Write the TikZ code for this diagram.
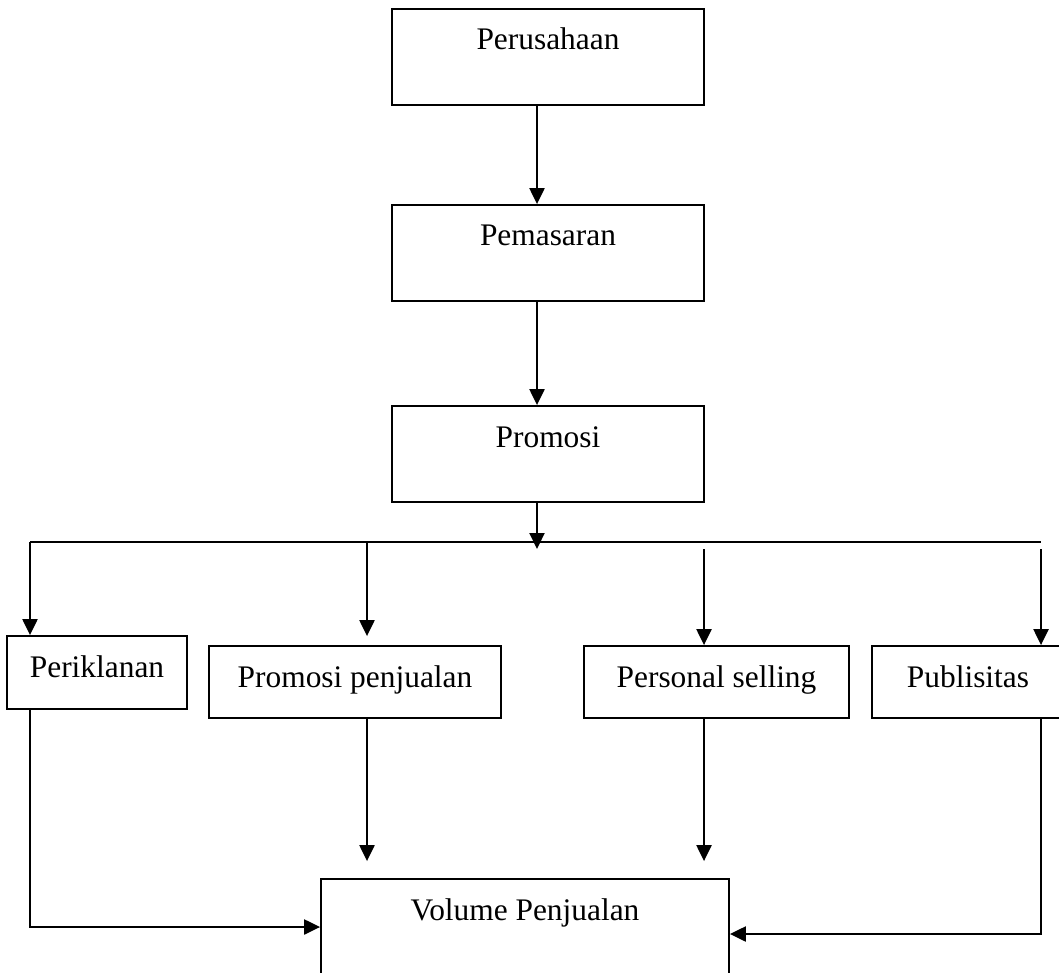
\documentclass[tikz,border=0pt]{standalone}
\usepackage{fontspec}
\setmainfont{Liberation Serif}
\usepackage{tikz}
\usetikzlibrary{positioning}
\usetikzlibrary{calc}
\usetikzlibrary{arrows.meta}

\begin{document}
\begin{tikzpicture}[
  x=0.5pt,y=-0.5pt,
  box/.style={draw,line width=0.9pt,inner sep=0pt,text height=20.5pt,text depth=#1,
    font=\fontsize{15.7}{18}\selectfont},
  arr/.style={line width=1.1pt,-{Triangle[length=8pt,width=7.5pt]}},
  wire/.style={line width=1.1pt}
  ]
  \useasboundingbox (0,0) rectangle (1059,973);
  \node (perusahaan)       [box=27.5pt,minimum width=156pt] at (548,57)    {Perusahaan};
  \node (pemasaran)        [box=27.5pt,minimum width=156pt] at (548,253)   {Pemasaran};
  \node (promosi)          [box=27.5pt,minimum width=156pt] at (548,454)   {Promosi};
  \node (periklanan)       [box=16pt,minimum width=90pt]    at (97,672.5)  {Periklanan};
  \node (promosipenjualan) [box=15.5pt,minimum width=146pt] at (355,682)   {Promosi penjualan};
  \node (personalselling)  [box=15.5pt,minimum width=132.5pt] at (716.5,682) {Personal selling};
  \node (publisitas)       [box=15.5pt,minimum width=96pt]  at (968,682)   {Publisitas};
  \node (volume)           [box=31pt,minimum width=204pt]   at (525,930.5) {Volume Penjualan};

  \coordinate (spine)    at (537,0);
  \coordinate (hub)      at (537,549);
  \coordinate (buswest)  at (30,542);
  \coordinate (buseast)  at (1041,542);
  \coordinate (dropb)    at (367,542);
  \coordinate (dropc)    at (704,549);
  \coordinate (dropd)    at (1041,549);

  \draw[arr] (perusahaan.south -| spine) -- (pemasaran.north -| spine);
  \draw[arr] (pemasaran.south -| spine) -- (promosi.north -| spine);
  \draw[arr] (promosi.south -| spine) -- (hub);
  \draw[wire] (buswest) -- (buseast);
  \draw[arr] (buswest) -- (buswest |- periklanan.north);
  \draw[arr,shorten >=4.5pt] (dropb) -- (dropb |- promosipenjualan.north);
  \draw[arr] (dropc) -- (dropc |- personalselling.north);
  \draw[arr] (dropd) -- (dropd |- publisitas.north);

  \draw[arr] (buswest |- periklanan.south) |- ([yshift=1.75pt]volume.west);
  \draw[arr,shorten >=8.5pt] (dropb |- promosipenjualan.south) -- (dropb |- volume.north);
  \draw[arr,shorten >=8.5pt] (dropc |- personalselling.south) -- (dropc |- volume.north);
  \draw[arr] (dropd |- publisitas.south) |- ([yshift=-1.75pt]volume.east);
\end{tikzpicture}
\end{document}
